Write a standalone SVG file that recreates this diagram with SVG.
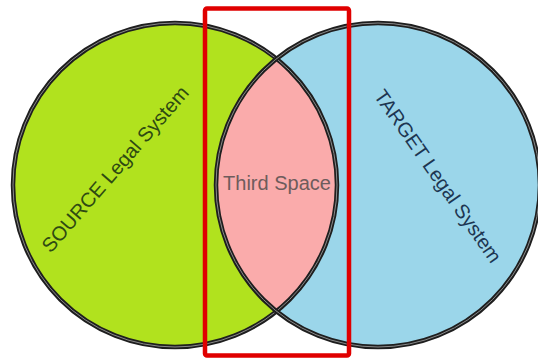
<svg xmlns="http://www.w3.org/2000/svg" width="538" height="361" viewBox="0 0 538 361">
  <style>
    .ring { fill: none; stroke: #1e1e1e; stroke-width: 4.5; }
    .ring-in { fill: none; stroke: #8a8a8a; stroke-width: 1; }
    .lbl { font-family: "Liberation Sans", Arial, sans-serif; font-size: 20px; text-anchor: middle; }
  </style>
  <rect x="0" y="0" width="538" height="361" fill="#ffffff"/>
  <g id="source">
    <circle cx="175" cy="185" r="162" fill="#b1e21e"/>
  </g>
  <g id="target">
    <circle cx="378" cy="185" r="162" fill="#9bd6ea"/>
  </g>
  <g id="third-space">
    <path d="M276.5,58.7 A162,162 0 0 1 276.5,311.3 A162,162 0 0 1 276.5,58.7 Z" fill="#faabab"/>
  </g>
  <g id="outlines">
    <circle class="ring" cx="175" cy="185" r="162"/>
    <circle class="ring-in" cx="175" cy="185" r="162"/>
    <circle class="ring" cx="378" cy="185" r="162"/>
    <circle class="ring-in" cx="378" cy="185" r="162"/>
  </g>
  <g id="labels">
    <text class="lbl" fill="#2e4a12" transform="translate(115,169) rotate(-49)" x="0" y="7">SOURCE Legal System</text>
    <text class="lbl" fill="#1d3652" transform="translate(438,176) rotate(55)" x="0" y="7">TARGET Legal System</text>
    <text class="lbl" fill="#6e5c5c" x="277" y="190">Third Space</text>
  </g>
  <g id="frame">
    <rect x="205" y="8.5" width="144" height="347" rx="2" fill="none" stroke="#e00000" stroke-width="4.5"/>
  </g>
  <g id="connectors"/>
</svg>
